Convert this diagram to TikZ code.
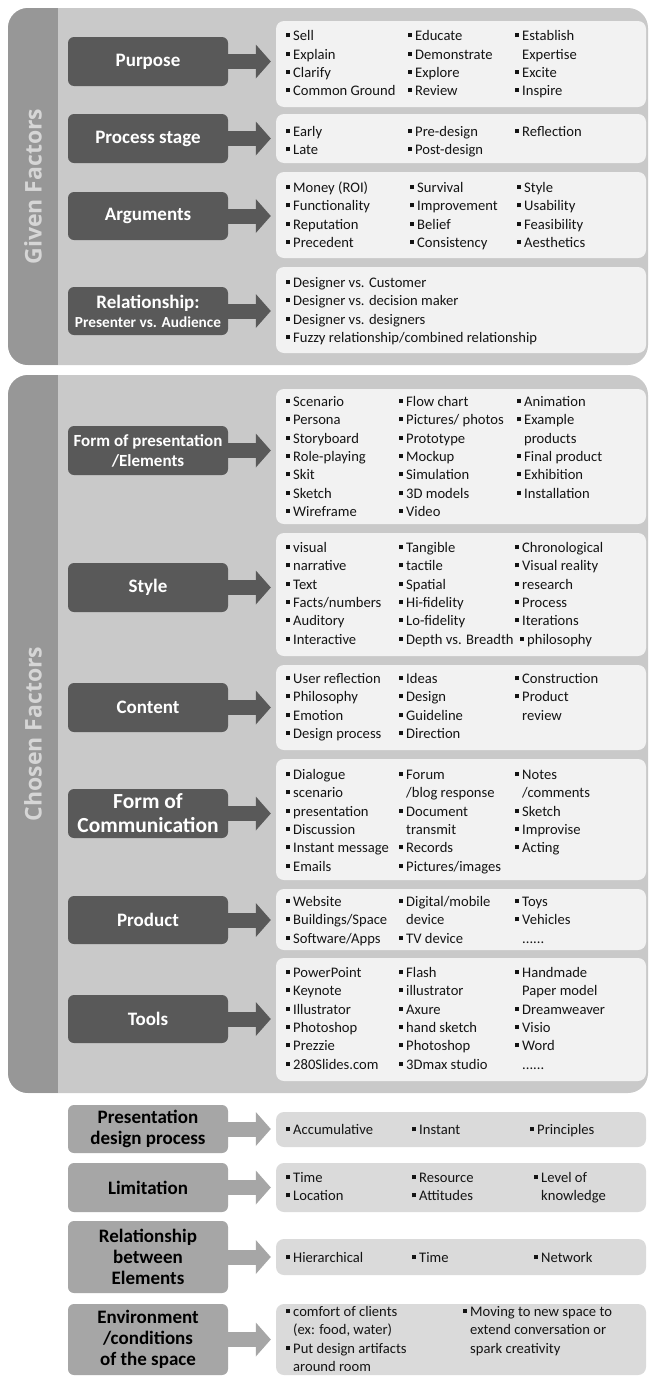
\documentclass[tikz,border=0pt]{standalone}
\usepackage{fontspec}
\setmainfont{Carlito}
\newfontfamily\stripfont{Open Sans}
\usetikzlibrary{arrows.meta,calc}
\definecolor{panelc}{RGB}{201,201,201}
\definecolor{stripc}{RGB}{151,151,151}
\definecolor{striptc}{RGB}{214,214,214}
\definecolor{darkc}{RGB}{89,89,89}
\definecolor{lightc}{RGB}{242,242,242}
\definecolor{midc}{RGB}{166,166,166}
\definecolor{glc}{RGB}{218,218,218}
\definecolor{itemc}{RGB}{20,20,20}
\newcommand\itb{\rule[3.5pt]{4pt}{4pt}\hspace{3pt}}
\newcommand\itind{\hspace{7pt}}
\newcommand\sixdots{......}
\newcommand\itemfont{\fontsize{14.6}{18.3}\selectfont}
\newcommand\labfont{\bfseries\fontsize{19}{21}\selectfont}
\newcommand\itemcol[4]{\foreach \txt [count=\nn] in {#4} {\node[item] (#3-\nn) at (#1,{#2+18.3*(\nn-1)}) {\txt};}}
\tikzset{
  panel/.style={fill=panelc},
  dbox/.style={fill=darkc, rounded corners=6pt, minimum width=160pt, text=white, font=\labfont, align=center, inner sep=0pt},
  lbox/.style={fill=lightc, rounded corners=8pt, minimum width=370pt, inner sep=0pt},
  gbox/.style={dbox, fill=midc, text=black},
  glbox/.style={lbox, fill=glc},
  item/.style={anchor=base west, inner sep=0pt, font=\itemfont, text=itemc},
  striplabel/.style={rotate=90, text=striptc, font=\stripfont\bfseries\fontsize{23}{23}\selectfont},
  darrow/.style={draw=darkc, line width=15pt, -{Triangle[length=15pt,width=34pt,line width=0pt]}},
  garrow/.style={darrow, draw=midc},
}
\begin{document}
\begin{tikzpicture}[x=1pt,y=-1pt]
\useasboundingbox (0,0) rectangle (649,1376);
\fill[white] (0,0) rectangle (649,1376);
% ---------- Given factors panel
\fill[panel, rounded corners=20pt] (8,8) rectangle (648,365);
\begin{scope}
\clip[rounded corners=20pt] (8,8) rectangle (648,365);
\fill[stripc] (8,8) rectangle (58,365);
\end{scope}
\node[striplabel] (given) at (33,186.5) {Given Factors};
% Purpose
\node[dbox, minimum height=49pt] (pur) at (148,61.5) {Purpose};
\node[lbox, minimum height=86pt] (purL) at (461,64) {};
\draw[darrow] (pur.east) -- ([xshift=-5pt]pur.east -| purL.west);
\itemcol{286}{40.7}{pura}{\itb Sell, \itb Explain, \itb Clarify, \itb Common Ground}
\itemcol{408}{40.7}{purb}{\itb Educate, \itb Demonstrate, \itb Explore, \itb Review}
\itemcol{515}{40.7}{purc}{\itb Establish, \itind Expertise, \itb Excite, \itb Inspire}
% Process stage
\node[dbox, minimum height=49pt] (proc) at (148,138.5) {Process stage};
\node[lbox, minimum height=49pt] (procL) at (461,138.5) {};
\draw[darrow] (proc.east) -- ([xshift=-5pt]proc.east -| procL.west);
\itemcol{286}{136.5}{proca}{\itb Early, \itb Late}
\itemcol{408}{136.5}{procb}{\itb Pre-design, \itb Post-design}
\itemcol{515}{136.5}{procc}{\itb Reflection}
% Arguments
\node[dbox, minimum height=48pt] (arg) at (148,216) {Arguments};
\node[lbox, minimum height=86pt] (argL) at (461,215) {};
\draw[darrow] (arg.east) -- ([xshift=-5pt]arg.east -| argL.west);
\itemcol{286}{192.5}{arga}{\itb Money (ROI), \itb Functionality, \itb Reputation, \itb Precedent}
\itemcol{410}{192.5}{argb}{\itb Survival, \itb Improvement, \itb Belief, \itb Consistency}
\itemcol{517}{192.5}{argc}{\itb Style, \itb Usability, \itb Feasibility, \itb Aesthetics}
% Relationship
\node[dbox, minimum height=48pt] (rel) at (148,311) {Relationship:\\[-2pt]{\fontsize{15.3}{17}\selectfont Presenter vs. Audience}};
\node[lbox, minimum height=86pt] (relL) at (461,310) {};
\draw[darrow] (rel.east) -- ([xshift=-5pt]rel.east -| relL.west);
\itemcol{286}{287.5}{rela}{\itb Designer vs. Customer, \itb Designer vs. decision maker, \itb Designer vs. designers, \itb Fuzzy relationship/combined relationship}
% ---------- Chosen factors panel
\fill[panel, rounded corners=20pt] (8,375) rectangle (648,1093);
\begin{scope}
\clip[rounded corners=20pt] (8,375) rectangle (648,1093);
\fill[stripc] (8,375) rectangle (58,1093);
\end{scope}
\node[striplabel] (chosen) at (33,734) {Chosen Factors};
% Form of presentation
\node[dbox, minimum height=49pt, font=\bfseries\fontsize{17}{20}\selectfont] (fop) at (148,450.5) {Form of presentation\\/Elements};
\node[lbox, minimum height=135pt] (fopL) at (461,456.5) {};
\draw[darrow] (fop.east) -- ([xshift=-5pt]fop.east -| fopL.west);
\itemcol{286}{406.5}{fopa}{\itb Scenario, \itb Persona, \itb Storyboard, \itb Role-playing, \itb Skit, \itb Sketch, \itb Wireframe}
\itemcol{399}{406.5}{fopb}{\itb Flow chart, \itb Pictures/ photos, \itb Prototype, \itb Mockup, \itb Simulation, \itb 3D models, \itb Video}
\itemcol{517}{406.5}{fopc}{\itb Animation, \itb Example, \itind products, \itb Final product, \itb Exhibition, \itb Installation}
% Style
\node[dbox, minimum height=49pt] (sty) at (148,587.5) {Style};
\node[lbox, minimum height=123pt] (styL) at (461,594.5) {};
\draw[darrow] (sty.east) -- ([xshift=-5pt]sty.east -| styL.west);
\itemcol{286}{552.5}{stya}{\itb visual, \itb narrative, \itb Text, \itb Facts/numbers, \itb Auditory, \itb Interactive}
\itemcol{399}{552.5}{styb}{\itb Tangible, \itb tactile, \itb Spatial, \itb Hi-fidelity, \itb Lo-fidelity, \itb Depth vs. Breadth}
\itemcol{515}{552.5}{styc}{\itb Chronological, \itb Visual reality, \itb research, \itb Process, \itb Iterations, \hspace{5pt}\itb philosophy}
% Content
\node[dbox, minimum height=49pt] (con) at (148,707.5) {Content};
\node[lbox, minimum height=85pt] (conL) at (461,707.5) {};
\draw[darrow] (con.east) -- ([xshift=-5pt]con.east -| conL.west);
\itemcol{286}{683.5}{cona}{\itb User reflection, \itb Philosophy, \itb Emotion, \itb Design process}
\itemcol{399}{683.5}{conb}{\itb Ideas, \itb Design, \itb Guideline, \itb Direction}
\itemcol{515}{683.5}{conc}{\itb Construction, \itb Product, \itind review}
% Form of communication
\node[dbox, minimum height=49pt, font=\bfseries\fontsize{21.5}{24}\selectfont] (foc) at (148,813.5) {Form of\\Communication};
\node[lbox, minimum height=121pt] (focL) at (461,819.5) {};
\draw[darrow] (foc.east) -- ([xshift=-5pt]foc.east -| focL.west);
\itemcol{286}{779.5}{foca}{\itb Dialogue, \itb scenario, \itb presentation, \itb Discussion, \itb Instant message, \itb Emails}
\itemcol{399}{779.5}{focb}{\itb Forum, \itind /blog response, \itb Document, \itind transmit, \itb Records, \itb Pictures/images}
\itemcol{515}{779.5}{focc}{\itb Notes, \itind /comments, \itb Sketch, \itb Improvise, \itb Acting}
% Product
\node[dbox, minimum height=48pt] (prd) at (148,920) {Product};
\node[lbox, minimum height=61pt] (prdL) at (461,919.5) {};
\draw[darrow] (prd.east) -- ([xshift=-5pt]prd.east -| prdL.west);
\itemcol{286}{906.5}{prda}{\itb Website, \itb Buildings/Space, \itb Software/Apps}
\itemcol{399}{906.5}{prdb}{\itb Digital/mobile, \itind device, \itb TV device}
\itemcol{515}{906.5}{prdc}{\itb Toys, \itb Vehicles, \itind\sixdots}
% Tools
\node[dbox, minimum height=48pt] (tls) at (148,1019) {Tools};
\node[lbox, minimum height=123pt] (tlsL) at (461,1019.5) {};
\draw[darrow] (tls.east) -- ([xshift=-5pt]tls.east -| tlsL.west);
\itemcol{286}{977.5}{tlsa}{\itb PowerPoint, \itb Keynote, \itb Illustrator, \itb Photoshop, \itb Prezzie, \itb 280Slides.com}
\itemcol{399}{977.5}{tlsb}{\itb Flash, \itb illustrator, \itb Axure, \itb hand sketch, \itb Photoshop, \itb 3Dmax studio}
\itemcol{515}{977.5}{tlsc}{\itb Handmade, \itind Paper model, \itb Dreamweaver, \itb Visio, \itb Word, \itind\sixdots}
% ---------- Bottom rows
\node[gbox, minimum height=48pt] (pdp) at (148,1129) {Presentation\\design process};
\node[glbox, minimum height=35pt] (pdpL) at (461,1129.5) {};
\draw[garrow] (pdp.east) -- ([xshift=-5pt]pdp.east -| pdpL.west);
\node[item] (pdp-a) at (286,1134.5) {\itb Accumulative};
\node[item] (pdp-b) at (412,1134.5) {\itb Instant};
\node[item] (pdp-c) at (530,1134.5) {\itb Principles};
% Limitation
\node[gbox, minimum height=49pt] (lim) at (148,1187.5) {Limitation};
\node[glbox, minimum height=49pt] (limL) at (461,1187.5) {};
\draw[garrow] (lim.east) -- ([xshift=-5pt]lim.east -| limL.west);
\itemcol{286}{1182.5}{lima}{\itb Time, \itb Location}
\itemcol{412}{1182.5}{limb}{\itb Resource, \itb Attitudes}
\itemcol{534}{1182.5}{limc}{\itb Level of, \itind knowledge}
% Relationship between elements
\node[gbox, minimum height=72pt] (rbe) at (148,1257) {Relationship\\between\\Elements};
\node[glbox, minimum height=36pt] (rbeL) at (461,1257) {};
\draw[garrow] (rbe.east) -- ([xshift=-5pt]rbe.east -| rbeL.west);
\node[item] (rbe-a) at (286,1262.5) {\itb Hierarchical};
\node[item] (rbe-b) at (412,1262.5) {\itb Time};
\node[item] (rbe-c) at (534,1262.5) {\itb Network};
% Environment
\node[gbox, minimum height=71pt] (env) at (148,1339.5) {Environment\\/conditions\\of the space};
\node[glbox, minimum height=71pt] (envL) at (461,1339.5) {};
\draw[garrow] (env.east) -- ([xshift=-5pt]env.east -| envL.west);
\itemcol{286}{1316.5}{enva}{\itb comfort of clients, {\itind (ex: food, water)}, \itb Put design artifacts, \itind around room}
\itemcol{463}{1316.5}{envb}{\itb Moving to new space to, \itind extend conversation or, \itind spark creativity}
\end{tikzpicture}
\end{document}
